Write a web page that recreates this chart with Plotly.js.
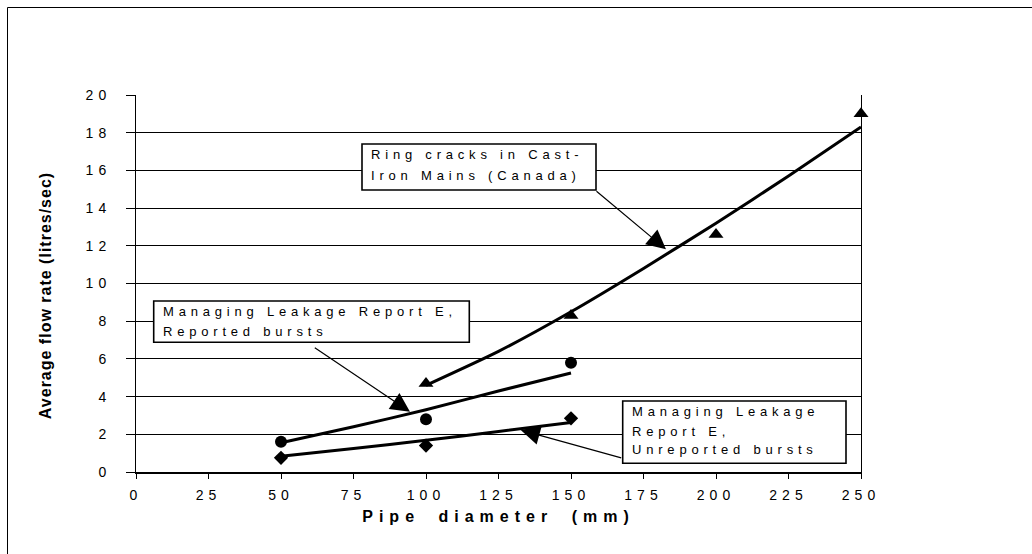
<!DOCTYPE html>
<html><head><meta charset="utf-8">
<script src="https://cdn.plot.ly/plotly-3.0.1.min.js"></script>
<style>
html,body{margin:0;padding:0;background:#fff;overflow:hidden}
#chart{width:1032px;height:554px}
.xtick text,.ytick text{letter-spacing:5px}
.xtitle{letter-spacing:6px;word-spacing:8px}
.ytitle{letter-spacing:1px}
.annotation-text{letter-spacing:4.8px}
</style></head><body><div id="chart"></div><script>
// ---- data ----
const canadaDiam = [100, 150, 200, 250];
const canadaFlow = [4.7, 8.3, 12.6, 19.0];
const canadaTrendDiam = [100, 125, 150, 175, 200, 225, 250];
const canadaTrendFlow = [4.6, 6.4, 8.5, 10.8, 13.2, 15.7, 18.3];

const reportedDiam = [50, 100, 150];
const reportedFlow = [1.6, 2.8, 5.8];
const reportedTrendDiam = [50, 75, 100, 125, 150];
const reportedTrendFlow = [1.55, 2.4, 3.3, 4.3, 5.25];

const unreportedDiam = [50, 100, 150];
const unreportedFlow = [0.75, 1.4, 2.85];
const unreportedTrendDiam = [50, 75, 100, 125, 150];
const unreportedTrendFlow = [0.83, 1.25, 1.68, 2.15, 2.63];

const xTitle = "Pipe diameter (mm)";
const yTitle = "Average flow rate (litres/sec)";
const labelCanada = ["Ring cracks in Cast-", "Iron Mains (Canada)"];
const labelReported = ["Managing Leakage Report E,", "Reported bursts"];
const labelUnreported = ["Managing Leakage", "Report E,", "Unreported bursts"];

// ---- layout geometry (pixels) ----
const W = 1032, H = 554;
const M = {l: 136, r: 171, t: 95, b: 82};
const PW = W - M.l - M.r, PH = H - M.t - M.b;
const xp = px => (px - M.l) / PW;
const yp = py => (H - M.b - py) / PH;
const XR = [0, 250], YR = [0, 20];
const dx = px => XR[0] + (px - M.l) / PW * (XR[1] - XR[0]);
const dy = py => YR[0] + (H - M.b - py) / PH * (YR[1] - YR[0]);

const FONT = "Arial, 'Liberation Sans', sans-serif";
const TREND = {color: '#000', width: 3, shape: 'spline', smoothing: 0.6};

const traces = [
  {x: canadaTrendDiam, y: canadaTrendFlow, mode: 'lines', line: TREND, hoverinfo: 'skip'},
  {x: reportedTrendDiam, y: reportedTrendFlow, mode: 'lines', line: TREND, hoverinfo: 'skip'},
  {x: unreportedTrendDiam, y: unreportedTrendFlow, mode: 'lines', line: TREND, hoverinfo: 'skip'},
  {x: canadaDiam, y: canadaFlow, mode: 'markers', cliponaxis: false, marker: {symbol: 'triangle-up', size: 13, color: '#000'}},
  {x: reportedDiam, y: reportedFlow, mode: 'markers', cliponaxis: false, marker: {symbol: 'circle', size: 12, color: '#000'}},
  {x: unreportedDiam, y: unreportedFlow, mode: 'markers', cliponaxis: false, marker: {symbol: 'diamond', size: 11, color: '#000'}}
];

function box(x0, y0, x1, y1) {
  return {type: 'rect', xref: 'paper', yref: 'paper', x0: xp(x0), x1: xp(x1), y0: yp(y1), y1: yp(y0),
          fillcolor: '#fff', line: {color: '#000', width: 1.6}, layer: 'above'};
}
function lines(arr, left, centers) {
  return arr.map((t, i) => ({text: t, xref: 'paper', yref: 'paper', x: xp(left), y: yp(centers[i]),
    xanchor: 'left', yanchor: 'middle', showarrow: false, font: {family: FONT, size: 13, color: '#000'}}));
}
function arrow(tx, ty, hx, hy) {
  return {text: '', xref: 'x', yref: 'y', axref: 'x', ayref: 'y', x: dx(hx), y: dy(hy), ax: dx(tx), ay: dy(ty),
    showarrow: true, arrowhead: 2, arrowsize: 3.2, arrowwidth: 1.2, arrowcolor: '#000', standoff: 0, startstandoff: 0};
}

const shapes = [
  {type: 'rect', xref: 'paper', yref: 'paper', x0: xp(7.5), y0: yp(H + 10), x1: xp(W + 10), y1: yp(7.5),
   line: {color: '#000', width: 1}, fillcolor: 'rgba(0,0,0,0)', layer: 'below'},
  box(362, 144, 596, 190),
  box(153.7, 301, 469.3, 342.3),
  box(622.7, 401, 846, 463.3)
];

const annotations = [].concat(
  lines(labelCanada, 369, [154.7, 175.3]),
  lines(labelReported, 161, [311.3, 331.5]),
  lines(labelUnreported, 630, [411, 431.3, 449.7]),
  [arrow(595, 190, 666, 249.3), arrow(313.3, 346.7, 410, 411.7), arrow(622.7, 458.3, 520.7, 430)]
);

const layout = {
  width: W, height: H,
  margin: M,
  paper_bgcolor: '#fff', plot_bgcolor: '#fff',
  showlegend: false,
  font: {family: FONT, color: '#000'},
  xaxis: {
    range: XR, dtick: 25, tick0: 0, showgrid: false, zeroline: false,
    showline: true, linecolor: '#000', linewidth: 2,
    ticks: 'outside', ticklen: 5, tickcolor: '#000', tickwidth: 1,
    tickfont: {family: FONT, size: 14, color: '#000'}, ticklabelstandoff: 4,
    title: {text: xTitle, font: {family: FONT, size: 16, color: '#000', weight: 'bold'}, standoff: 9},
    automargin: false, fixedrange: true
  },
  yaxis: {
    range: YR, dtick: 2, tick0: 0, showgrid: true, gridcolor: '#000', gridwidth: 1, zeroline: false,
    showline: true, linecolor: '#000', linewidth: 1, mirror: true,
    ticks: 'outside', ticklen: 9, tickcolor: '#000', tickwidth: 1,
    tickfont: {family: FONT, size: 14, color: '#000'}, ticklabelstandoff: 12,
    title: {text: yTitle, font: {family: FONT, size: 16, color: '#000', weight: 'bold'}, standoff: 30},
    automargin: false, fixedrange: true
  },
  shapes: shapes,
  annotations: annotations
};

Plotly.newPlot('chart', traces, layout, {displayModeBar: false, staticPlot: true}).then(gd => {
  // the reference's y title sits a little below the plot centre
  const t = gd.querySelector('.ytitle');
  if (t) {
    const tr = t.getAttribute('transform') || '';
    t.setAttribute('transform', 'translate(0,12) ' + tr);
  }
});
</script></body></html>
